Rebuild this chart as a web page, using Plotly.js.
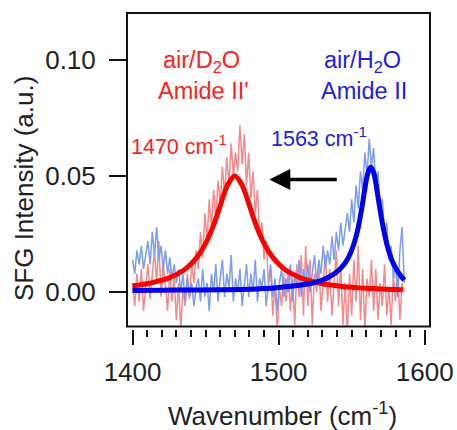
<!DOCTYPE html>
<html>
<head>
<meta charset="utf-8">
<script src="https://cdn.plot.ly/plotly-3.0.1.min.js"></script>
<style>html,body{margin:0;padding:0;background:#fff;}#chart{width:457px;height:430px;}</style>
</head>
<body>
<div id="chart"></div>
<script>
// Wavenumber grid of the measured spectra (cm-1)
var waveData = [1400,1401.5,1403,1404.5,1406,1407.5,1409,1410.5,1412,1413.5,
1415,1416.5,1418,1419.5,1421,1422.5,1424,1425.5,1427,1428.5,
1430,1431.5,1433,1434.5,1436,1437.5,1439,1440.5,1442,1443.5,
1445,1446.5,1448,1449.5,1451,1452.5,1454,1455.5,1457,1458.5,
1460,1461.5,1463,1464.5,1466,1467.5,1469,1470.5,1472,1473.5,
1475,1476.5,1478,1479.5,1481,1482.5,1484,1485.5,1487,1488.5,
1490,1491.5,1493,1494.5,1496,1497.5,1499,1500.5,1502,1503.5,
1505,1506.5,1508,1509.5,1511,1512.5,1514,1515.5,1517,1518.5,
1520,1521.5,1523,1524.5,1526,1527.5,1529,1530.5,1532,1533.5,
1535,1536.5,1538,1539.5,1541,1542.5,1544,1545.5,1547,1548.5,
1550,1551.5,1553,1554.5,1556,1557.5,1559,1560.5,1562,1563.5,
1565,1566.5,1568,1569.5,1571,1572.5,1574,1575.5,1577,1578.5,
1580,1581.5,1583,1584.5,1586];

// air/D2O raw SFG intensity
var d2oData = [0.004,-0.006,0.008,-0.004,0.010,-0.008,0.002,0.012,-0.003,0.006,
0.018,0.004,0.022,-0.002,0.012,0.003,-0.008,0.010,-0.004,0.006,
-0.012,0.004,-0.016,0.002,-0.006,0.008,-0.003,0.012,0.004,0.018,
0.010,0.026,0.015,0.034,0.022,0.040,0.028,0.044,0.032,0.048,
0.038,0.054,0.042,0.058,0.046,0.064,0.050,0.060,0.052,0.072,
0.055,0.068,0.046,0.060,0.040,0.052,0.034,0.044,0.024,0.030,
0.014,0.022,0.004,0.010,-0.010,0.004,-0.016,0.002,-0.006,0.008,
-0.004,0.010,-0.008,0.006,-0.014,0.012,-0.002,0.016,-0.010,0.020,
-0.006,0.014,-0.014,0.008,0.000,0.012,-0.008,0.004,0.016,-0.004,
0.010,-0.010,0.006,0.018,-0.006,0.012,-0.014,0.004,-0.018,0.008,
-0.010,0.014,-0.004,0.020,-0.012,0.010,-0.016,0.006,-0.002,0.014,
-0.008,0.010,-0.012,0.004,-0.006,0.012,-0.010,0.002,-0.014,0.008,
-0.004,0.010,-0.012,0.004,0.000];

// air/H2O raw SFG intensity
var h2oData = [0.014,0.008,0.018,0.012,0.020,0.010,0.016,0.022,0.012,0.026,
0.016,0.028,0.014,0.020,0.010,0.018,0.008,0.015,0.006,0.012,
0.004,0.010,0.000,0.008,-0.004,0.006,-0.002,0.004,-0.006,0.002,
0.006,-0.004,0.010,-0.002,0.004,-0.008,0.008,0.000,0.012,-0.004,
0.006,0.014,-0.002,0.008,0.002,0.016,-0.004,0.006,0.000,0.010,
-0.006,0.004,0.012,-0.002,0.008,0.000,0.014,-0.004,0.006,0.002,
0.010,-0.006,0.004,0.012,-0.002,0.006,-0.008,0.004,0.010,-0.002,
0.006,0.000,0.012,-0.004,0.008,0.002,0.014,-0.002,0.010,0.004,
0.012,0.000,0.008,0.016,0.004,0.014,0.008,0.020,0.010,0.018,
0.012,0.024,0.014,0.026,0.018,0.030,0.020,0.028,0.034,0.026,
0.040,0.030,0.046,0.036,0.052,0.044,0.060,0.050,0.066,0.054,
0.062,0.046,0.052,0.036,0.040,0.024,0.030,0.014,0.020,0.006,
0.012,-0.002,0.018,0.028,0.004];

// Fitted curves
var d2oFitX = [1400,1405,1410,1415,1420,1425,1430,1435,1440,1445,1450,1455,1460,1465,1470,1475,1480,1485,1490,1495,1500,1505,1510,1515,1520,1525,1530,1535,1540,1545,1550,1555,1560,1565,1570,1575,1580,1585];
var d2oFitY = [0.0028,0.0032,0.0037,0.0044,0.0052,0.0062,0.0077,0.0095,0.0122,0.0158,0.0210,0.0281,0.0372,0.0460,0.0500,0.0460,0.0372,0.0281,0.0210,0.0158,0.0122,0.0095,0.0077,0.0062,0.0052,0.0044,0.0037,0.0032,0.0028,0.0024,0.0022,0.0019,0.0017,0.0016,0.0014,0.0013,0.0012,0.0011];
var h2oFitX = [1400,1420,1440,1460,1480,1490,1500,1510,1520,1525,1530,1535,1540,1545,1548,1551,1554,1557,1559,1561,1563,1565,1567,1569,1572,1575,1578,1581,1584,1586];
var h2oFitY = [0.0008,0.0009,0.0010,0.0011,0.0013,0.0016,0.0021,0.0027,0.0036,0.0043,0.0053,0.0068,0.0089,0.0122,0.0152,0.0198,0.0265,0.0365,0.0445,0.0510,0.0538,0.0515,0.0450,0.0370,0.0265,0.0185,0.0130,0.0095,0.0068,0.0052];

var majorTicks = [1400,1500,1600];
var yTicks = [0,0.05,0.10];
var yTickText = ['0.00','0.05','0.10'];

var FONT = 'Liberation Sans, Arial, sans-serif';
var AX = 26;   // axis text size
var LAB = 23.5; // label size
var PK = 21.5;  // peak label size

var traces = [
  {x: waveData, y: d2oData, type:'scatter', mode:'lines', line:{color:'#f48a8c', width:1.5}, hoverinfo:'skip'},
  {x: waveData, y: h2oData, type:'scatter', mode:'lines', line:{color:'#7d9cf4', width:1.5}, hoverinfo:'skip'},
  {x: d2oFitX, y: d2oFitY, type:'scatter', mode:'lines', line:{color:'#ff0000', width:5, shape:'spline'}, hoverinfo:'skip'},
  {x: h2oFitX, y: h2oFitY, type:'scatter', mode:'lines', line:{color:'#0000ee', width:5, shape:'spline'}, hoverinfo:'skip'}
];

var yDomLow = 0.008;

var layout = {
  width: 457, height: 430,
  margin: {l:127, r:27, t:13, b:101, pad:0},
  paper_bgcolor:'#fff', plot_bgcolor:'#fff',
  showlegend:false,
  font:{family:FONT, size:AX, color:'#222'},
  xaxis:{
    range:[1396.2,1603.6], anchor:'free', position:0,
    showline:false, zeroline:false, showgrid:false,
    tickmode:'array', tickvals:majorTicks, ticktext:majorTicks.map(String),
    ticks:'outside', ticklen:15, tickwidth:2, tickcolor:'#111',
    ticklabelstandoff:5,
    tickfont:{family:FONT, size:AX, color:'#222'},
    minor:{dtick:10, tick0:1400, ticks:'outside', ticklen:7, tickwidth:2, tickcolor:'#111', showgrid:false}
  },
  yaxis:{
    range:[-0.01468,0.12], domain:[yDomLow,1],
    showline:false, zeroline:false, showgrid:false,
    tickmode:'array', tickvals:yTicks, ticktext:yTickText,
    ticks:'outside', ticklen:17, tickwidth:2, tickcolor:'#111',
    ticklabelstandoff:8,
    tickfont:{family:FONT, size:AX, color:'#222'}
  },
  shapes:[
    {type:'rect', xref:'paper', yref:'paper', x0:0, x1:1, y0:yDomLow, y1:1, line:{color:'#111', width:2}, layer:'above'}
  ],
  annotations:[
    {xref:'paper', yref:'paper', x:0.5116, y:-0.27, text:'Wavenumber (cm<sup>-1</sup>)', showarrow:false, font:{family:FONT,size:AX,color:'#222'}, xanchor:'center', yanchor:'middle'},
    {xref:'paper', yref:'paper', x:-0.34, y:0.446, text:'SFG Intensity (a.u.)', textangle:-90, showarrow:false, font:{family:FONT,size:AX,color:'#222'}, xanchor:'center', yanchor:'middle'},
    {xref:'paper', yref:'paper', x:0.2475, y:0.845, text:'air/D<sub>2</sub>O', showarrow:false, font:{family:FONT,size:LAB,color:'#ff2020'}, xanchor:'center', yanchor:'middle'},
    {xref:'paper', yref:'paper', x:0.254, y:0.753, text:"Amide II'", showarrow:false, font:{family:FONT,size:LAB,color:'#ff2020'}, xanchor:'center', yanchor:'middle'},
    {xref:'paper', yref:'paper', x:0.776, y:0.845, text:'air/H<sub>2</sub>O', showarrow:false, font:{family:FONT,size:LAB,color:'#2020e8'}, xanchor:'center', yanchor:'middle'},
    {xref:'paper', yref:'paper', x:0.782, y:0.753, text:'Amide II', showarrow:false, font:{family:FONT,size:LAB,color:'#2020e8'}, xanchor:'center', yanchor:'middle'},
    {xref:'paper', yref:'paper', x:0.17, y:0.583, text:'1470 cm<sup>-1</sup>', showarrow:false, font:{family:FONT,size:PK,color:'#ff2020'}, xanchor:'center', yanchor:'middle'},
    {xref:'paper', yref:'paper', x:0.633, y:0.607, text:'1563 cm<sup>-1</sup>', showarrow:false, font:{family:FONT,size:PK,color:'#2020e8'}, xanchor:'center', yanchor:'middle'},
    {xref:'x', yref:'y', x:1493.6, y:0.0485, axref:'x', ayref:'y', ax:1540.8, ay:0.0485, text:'', showarrow:true, arrowhead:2, arrowsize:1.2, arrowwidth:3.5, arrowcolor:'#000'}
  ]
};

Plotly.newPlot('chart', traces, layout, {displayModeBar:false, staticPlot:true});
</script>
</body>
</html>
